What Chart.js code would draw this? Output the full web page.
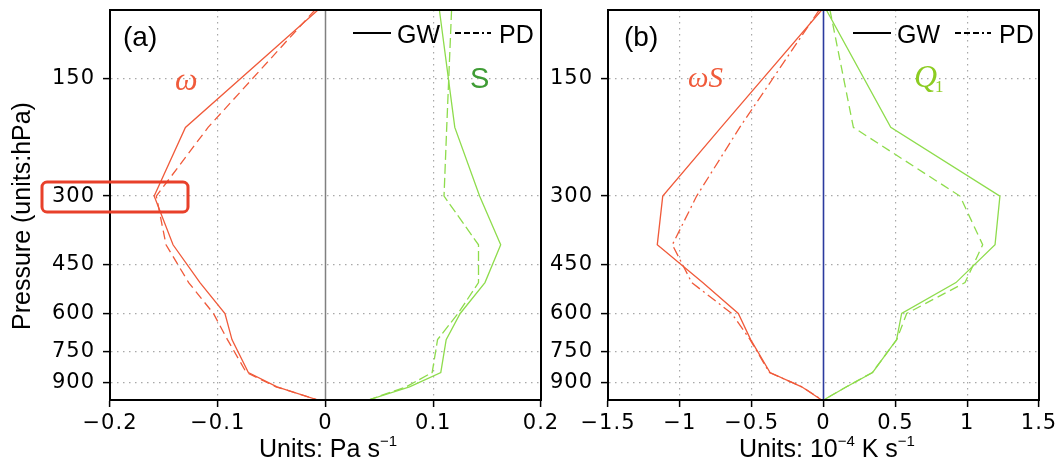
<!DOCTYPE html>
<html>
<head>
<meta charset="utf-8">
<script src="https://cdn.jsdelivr.net/npm/chart.js@4.4.1/dist/chart.umd.min.js"></script>
<style>
  html, body { margin: 0; padding: 0; background: #fff; }
  #wrap { position: relative; width: 1062px; height: 463px; overflow: hidden; }
  canvas { position: absolute; top: 0; }
</style>
</head>
<body>
<div id="wrap">
  <canvas id="chartA" width="572" height="463" style="left:0"></canvas>
  <canvas id="chartB" width="517" height="463" style="left:545px"></canvas>
</div>
<script>
// pressure levels (hPa) and axis ticks
const pressure = [100, 200, 300, 400, 500, 600, 700, 850, 925, 1000];
const pressureTicks = [150, 300, 450, 600, 750, 900];
const xTicksA = [-0.2, -0.1, 0, 0.1, 0.2];
const xTicksB = [-1.5, -1, -0.5, 0, 0.5, 1, 1.5];

// (a) omega and S, Pa s-1
const omegaGW = [-0.007, -0.130, -0.159, -0.1415, -0.1165, -0.0933, -0.0868, -0.0716, -0.045, -0.007];
const omegaPD = [-0.0098, -0.109, -0.157, -0.148, -0.127, -0.104, -0.091, -0.0735, -0.046, -0.007];
const sGW = [0.1057, 0.120, 0.143, 0.1626, 0.148, 0.125, 0.112, 0.107, 0.078, 0.0397];
const sPD = [0.117, 0.1125, 0.110, 0.142, 0.142, 0.123, 0.104, 0.099, 0.075, 0.0397];

// (b) omega*S and Q1, 10^-4 K s-1
const wsGW = [-0.0125, -0.713, -1.119, -1.157, -0.841, -0.593, -0.507, -0.372, -0.152, -0.0125];
const wsPD = [-0.03, -0.583, -0.883, -1.052, -0.917, -0.639, -0.511, -0.377, -0.15, -0.01];
const q1GW = [0.02, 0.468, 1.228, 1.194, 0.922, 0.544, 0.509, 0.342, 0.161, 0];
const q1PD = [0.045, 0.208, 0.95, 1.108, 0.985, 0.579, 0.51, 0.34, 0.16, 0];

const RED = '#f05a3a';
const GREEN = '#8edc4c';

function pts(vals) {
  return vals.map((v, i) => ({ x: v, y: pressure[i] }));
}

function line(vals, color, dash) {
  return {
    data: pts(vals), showLine: true, borderColor: color, borderWidth: 1.3,
    borderDash: dash || [], pointRadius: 0, tension: 0, fill: false
  };
}

function fmt(v) {
  const r = Math.round(v * 10) / 10;
  return r < 0 ? '\u2212' + Math.abs(r) : String(r);
}

const tickFont = { family: 'DejaVu Sans', size: 21 };
const gridColor = c => (c.tick && Math.abs(c.tick.value) < 1e-9) ? 'rgba(0,0,0,0)' : '#a8a8a8';

// 画框
function frame(chart) {
  const ctx = chart.ctx, a = chart.chartArea;
  ctx.save();
  ctx.strokeStyle = '#000';
  ctx.lineWidth = 2;
  ctx.strokeRect(a.left, a.top, a.right - a.left, a.bottom - a.top);
  ctx.restore();
}

// 零线
function zeroLine(chart, color, w) {
  const ctx = chart.ctx, a = chart.chartArea;
  const x = chart.scales.x.getPixelForValue(0);
  ctx.save();
  ctx.strokeStyle = color;
  ctx.lineWidth = w;
  ctx.beginPath();
  ctx.moveTo(x, a.top);
  ctx.lineTo(x, a.bottom);
  ctx.stroke();
  ctx.restore();
}

// text with superscripts, centred at cx
function richText(ctx, parts, cx, base) {
  let total = 0;
  parts.forEach(p => { ctx.font = p.font; p.w = ctx.measureText(p.t).width; total += p.w; });
  let x = cx - total / 2;
  ctx.textAlign = 'left';
  ctx.textBaseline = 'alphabetic';
  parts.forEach(p => { ctx.font = p.font; ctx.fillText(p.t, x, base + (p.dy || 0)); x += p.w; });
}

function legend(ctx, x0) {
  ctx.save();
  ctx.strokeStyle = '#000';
  ctx.fillStyle = '#000';
  ctx.lineWidth = 2.2;
  ctx.beginPath(); ctx.moveTo(x0, 33); ctx.lineTo(x0 + 38, 33); ctx.stroke();
  ctx.font = '25px "Liberation Sans"';
  ctx.textBaseline = 'alphabetic';
  ctx.fillText('GW', x0 + 44, 43);
  ctx.setLineDash([6, 3, 6, 3, 6, 3, 2, 3]);
  ctx.beginPath(); ctx.moveTo(x0 + 102, 33); ctx.lineTo(x0 + 138, 33); ctx.stroke();
  ctx.setLineDash([]);
  ctx.fillText('PD', x0 + 146, 43);
  ctx.restore();
}

// wider tick text, like the original
const spacing = {
  id: 'spacing',
  beforeDraw(chart) { chart.ctx.letterSpacing = '1px'; },
  afterDraw(chart) { chart.ctx.letterSpacing = '0px'; }
};

const panelA = {
  id: 'panelA',
  beforeDatasetsDraw(chart) { zeroLine(chart, '#808080', 1.5); },
  afterDraw(chart) {
    const ctx = chart.ctx;
    ctx.letterSpacing = '0px';
    frame(chart);
    ctx.save();
    ctx.fillStyle = '#000';
    ctx.font = '28px "Liberation Sans"';
    ctx.fillText('(a)', 123, 46);
    legend(ctx, 353);
    ctx.fillStyle = RED;
    ctx.font = 'italic 32px "Liberation Serif"';
    ctx.fillText('\u03c9', 175, 90);
    ctx.fillStyle = '#3f9c35';
    ctx.font = '29px "Liberation Sans"';
    ctx.fillText('S', 470, 88);
    // y title
    ctx.fillStyle = '#000';
    ctx.save();
    ctx.translate(30, 216);
    ctx.rotate(-Math.PI / 2);
    ctx.font = '25px "Liberation Sans"';
    ctx.textAlign = 'center';
    ctx.fillText('Pressure (units:hPa)', 0, 0);
    ctx.restore();
    // x title
    richText(ctx, [
      { t: 'Units: Pa s', font: '25px "Liberation Sans"' },
      { t: '\u22121', font: '15px "Liberation Sans"', dy: -11 }
    ], 328, 457);
    // red box round 300
    ctx.strokeStyle = '#e8402a';
    ctx.lineWidth = 3;
    ctx.beginPath();
    ctx.roundRect(42, 182, 146, 30, 5);
    ctx.stroke();
    ctx.restore();
  }
};

const panelB = {
  id: 'panelB',
  beforeDatasetsDraw(chart) { zeroLine(chart, '#2b3a9e', 1.6); },
  afterDraw(chart) {
    const ctx = chart.ctx;
    ctx.letterSpacing = '0px';
    frame(chart);
    ctx.save();
    ctx.fillStyle = '#000';
    ctx.font = '28px "Liberation Sans"';
    ctx.fillText('(b)', 79, 46);
    legend(ctx, 308);
    ctx.fillStyle = RED;
    ctx.font = 'italic 29px "Liberation Serif"';
    ctx.fillText('\u03c9S', 143, 87);
    ctx.fillStyle = '#8ccc22';
    ctx.font = 'italic 32px "Liberation Serif"';
    ctx.fillText('Q', 369, 87);
    ctx.font = '17px "Liberation Serif"';
    ctx.fillText('1', 390, 92);
    ctx.fillStyle = '#000';
    richText(ctx, [
      { t: 'Units: 10', font: '25px "Liberation Sans"' },
      { t: '\u22124', font: '15px "Liberation Sans"', dy: -11 },
      { t: ' K s', font: '25px "Liberation Sans"' },
      { t: '\u22121', font: '15px "Liberation Sans"', dy: -11 }
    ], 282, 457);
    ctx.restore();
  }
};

function makeChart(id, c) {
  return new Chart(document.getElementById(id), {
    type: 'scatter',
    data: { datasets: c.datasets },
    options: {
      responsive: false,
      animation: false,
      layout: { padding: { top: 10, right: c.padRight, left: 0, bottom: 0 } },
      plugins: { legend: { display: false }, tooltip: { enabled: false } },
      scales: {
        x: {
          type: 'linear', min: c.xMin, max: c.xMax,
          afterBuildTicks: s => { s.ticks = c.xTicks.map(v => ({ value: v })); },
          afterFit: s => { s.height = 63; s.paddingLeft = 0; s.paddingRight = 0; },
          ticks: { font: tickFont, color: '#000', padding: 4, autoSkip: false, maxRotation: 0, callback: fmt },
          grid: { color: gridColor, lineWidth: 1.2, tickColor: '#000', tickLength: 7, tickWidth: 1.5, tickBorderDash: [] },
          border: { color: '#000', width: 2, dash: [1.5, 4.5] }
        },
        y: {
          type: 'logarithmic', reverse: true, min: 100, max: 1000,
          afterBuildTicks: s => { s.ticks = pressureTicks.map(v => ({ value: v })); },
          afterFit: s => { s.width = c.yWidth; s.paddingTop = 0; s.paddingBottom = 0; },
          ticks: { font: tickFont, color: '#000', padding: 8, autoSkip: false, callback: v => String(v) },
          grid: { color: '#a8a8a8', lineWidth: 1.2, tickColor: '#000', tickLength: 7, tickWidth: 1.5, tickBorderDash: [] },
          border: { color: '#000', width: 2, dash: [1.5, 4.5] }
        }
      }
    },
    plugins: [spacing, c.plugin]
  });
}

makeChart('chartA', {
  xMin: -0.2, xMax: 0.2, xTicks: xTicksA, yWidth: 110, padRight: 31, plugin: panelA,
  datasets: [
    line(omegaGW, RED),
    line(omegaPD, RED, [9, 5]),
    line(sGW, GREEN),
    line(sPD, GREEN, [10, 4])
  ]
});

makeChart('chartB', {
  xMin: -1.5, xMax: 1.5, xTicks: xTicksB, yWidth: 63, padRight: 23, plugin: panelB,
  datasets: [
    line(wsGW, RED),
    line(wsPD, RED, [10, 4, 2, 4]),
    line(q1GW, GREEN),
    line(q1PD, GREEN, [9, 5])
  ]
});
</script>
</body>
</html>
